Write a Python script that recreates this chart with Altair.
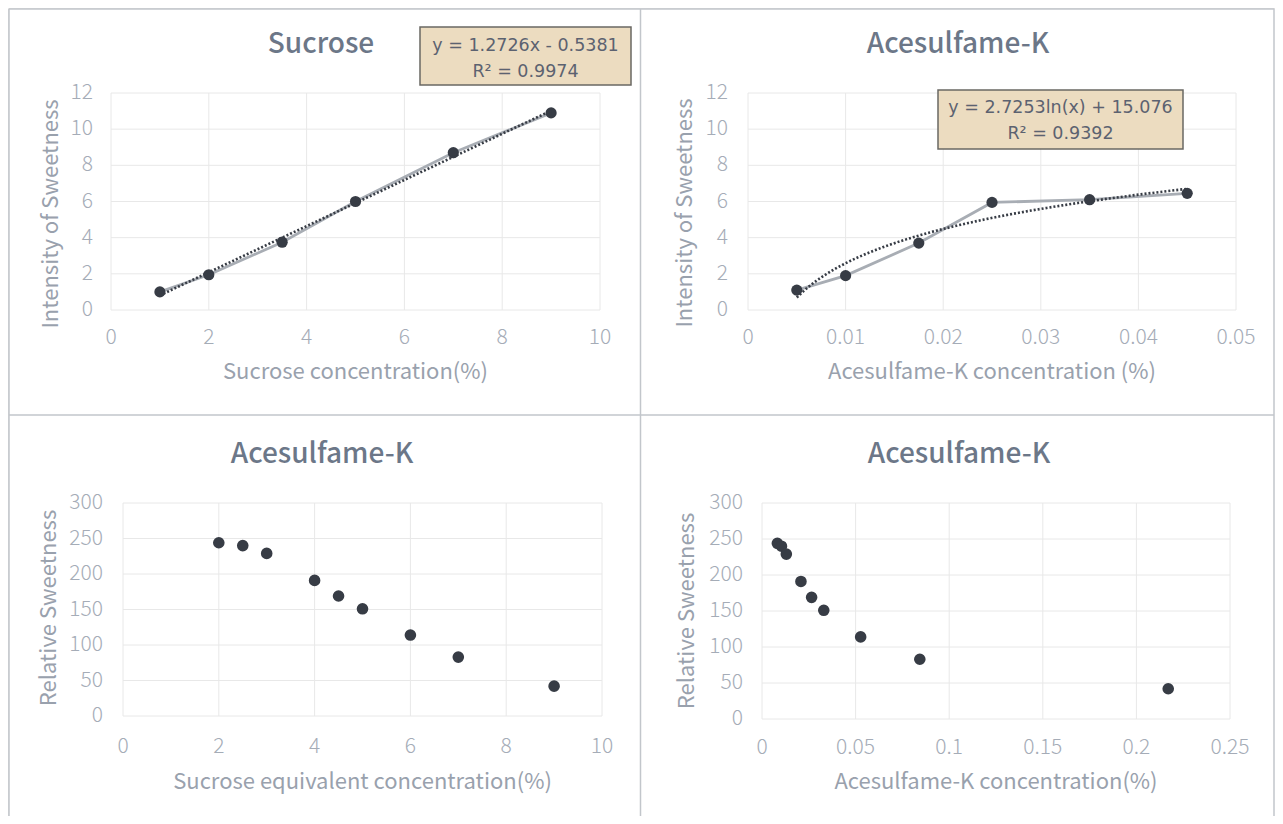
import altair as alt
import pandas as pd

# ---------------- data ----------------
sucrose_conc = [1, 2, 3.5, 5, 7, 9]
sucrose_intensity = [1.0, 1.95, 3.75, 6.0, 8.7, 10.9]

acek_conc = [0.005, 0.01, 0.0175, 0.025, 0.035, 0.045]
acek_intensity = [1.1, 1.9, 3.7, 5.95, 6.1, 6.45]

sucrose_equiv = [2, 2.5, 3, 4, 4.5, 5, 6, 7, 9]
relative_sweetness = [244, 240, 229, 191, 169, 151, 114, 83, 42]
acek_conc_rel = [0.0082, 0.0104, 0.013, 0.0208, 0.0265, 0.033, 0.0527, 0.0843, 0.217]

titles = ["Sucrose", "Acesulfame-K", "Acesulfame-K", "Acesulfame-K"]
x_titles = ["Sucrose concentration(%)", "Acesulfame-K concentration (%)",
            "Sucrose equivalent concentration(%)", "Acesulfame-K concentration(%)"]
y_titles = ["Intensity of Sweetness", "Intensity of Sweetness",
            "Relative Sweetness", "Relative Sweetness"]
eq1_lines = ["y = 1.2726x - 0.5381", "R² = 0.9974"]
eq2_lines = ["y = 2.7253ln(x) + 15.076", "R² = 0.9392"]

x_ticks_1 = [0, 2, 4, 6, 8, 10]
x_ticks_2 = [0, 0.01, 0.02, 0.03, 0.04, 0.05]
x_ticks_3 = [0, 2, 4, 6, 8, 10]
x_ticks_4 = [0, 0.05, 0.1, 0.15, 0.2, 0.25]
y_ticks_top = [0, 2, 4, 6, 8, 10, 12]
y_ticks_bottom = [0, 50, 100, 150, 200, 250, 300]

# ---------------- style / layout ----------------
FONT = "Noto Sans CJK KR"
EQ_FONT = "DejaVu Sans"
GRID = "#e8e8e8"
LABEL_C = "#a5acb7"
ATITLE_C = "#99a1ad"
TITLE_C = "#6c7788"
DARK = "#373c45"
LINE_C = "#a8adb4"
BORDER = "#c2c6cb"
BOX_FILL = "#ecdcc0"
BOX_STROKE = "#6a6863"
EQ_C = "#5c6270"

W, H = 1267, 808
one = pd.DataFrame({"k": [0]})


def panel(df, xdom, xrange, ydom, yrange, xt, yt, xlab_y, ylab_x,
          with_line=False, trend=None, size=100):
    X = alt.X("x:Q", scale=alt.Scale(domain=xdom, range=xrange, nice=False, zero=False), axis=None)
    Y = alt.Y("y:Q", scale=alt.Scale(domain=ydom, range=yrange, nice=False, zero=False), axis=None)
    layers = [
        alt.Chart(pd.DataFrame({"x": xt})).mark_rule(color=GRID, strokeWidth=1).encode(
            x=X, y=alt.value(yrange[1]), y2=alt.value(yrange[0])),
        alt.Chart(pd.DataFrame({"y": yt})).mark_rule(color=GRID, strokeWidth=1).encode(
            y=Y, x=alt.value(xrange[0]), x2=alt.value(xrange[1])),
        alt.Chart(pd.DataFrame({"x": xt})).mark_text(
            font=FONT, fontSize=21, color=LABEL_C, align="center", baseline="middle",
            fontWeight=300).encode(
            x=X, y=alt.value(xlab_y), text=alt.Text("x:Q", format="~r")),
        alt.Chart(pd.DataFrame({"y": yt})).mark_text(
            font=FONT, fontSize=21, color=LABEL_C, align="right", baseline="middle",
            fontWeight=300).encode(
            y=Y, x=alt.value(ylab_x), text=alt.Text("y:Q", format="~r")),
    ]
    base = alt.Chart(df)
    if with_line:
        layers.append(base.mark_line(color=LINE_C, strokeWidth=2.8).encode(x=X, y=Y))
    layers.append(base.mark_point(filled=True, color=DARK, size=size, opacity=1).encode(x=X, y=Y))
    if trend:
        layers.append(base.transform_regression("x", "y", method=trend).mark_line(
            color=DARK, strokeWidth=2.6, strokeDash=[2, 2]).encode(x=X, y=Y))
    return alt.layer(*layers)


def text_at(t, x, y, size, color, font=FONT, angle=0, weight="normal"):
    return alt.Chart(pd.DataFrame({"t": [t]})).mark_text(
        font=font, fontSize=size, color=color, align="center", baseline="middle",
        angle=angle, fontWeight=weight
    ).encode(text="t:N", x=alt.value(x), y=alt.value(y))


def rule_at(x1, y1, x2, y2):
    return alt.Chart(one).mark_rule(color=BORDER, strokeWidth=1.5).encode(
        x=alt.value(x1), y=alt.value(y1), x2=alt.value(x2), y2=alt.value(y2))


def eq_box(lines, x1, x2, y1, y2, ys):
    out = [alt.Chart(one).mark_rect(fill=BOX_FILL, stroke=BOX_STROKE, strokeWidth=1.5).encode(
        x=alt.value(x1), x2=alt.value(x2), y=alt.value(y1), y2=alt.value(y2))]
    for ln, yy in zip(lines, ys):
        out.append(text_at(ln, (x1 + x2) / 2, yy, 17.5, EQ_C, font=EQ_FONT))
    return out


p1 = panel(pd.DataFrame({"x": sucrose_conc, "y": sucrose_intensity}),
           [0, 10], [103, 592], [0, 12], [302, 85], x_ticks_1, y_ticks_top, 330, 85,
           with_line=True, trend="linear", size=125)
p2 = panel(pd.DataFrame({"x": acek_conc, "y": acek_intensity}),
           [0, 0.05], [740, 1228], [0, 12], [302, 85], x_ticks_2, y_ticks_top, 330, 720,
           with_line=True, trend="log", size=125)
p3 = panel(pd.DataFrame({"x": sucrose_equiv, "y": relative_sweetness}),
           [0, 10], [115, 594], [0, 300], [708, 495], x_ticks_3, y_ticks_bottom, 739, 95,
           size=135)
p4 = panel(pd.DataFrame({"x": acek_conc_rel, "y": relative_sweetness}),
           [0, 0.25], [754, 1222], [0, 300], [711, 495], x_ticks_4, y_ticks_bottom, 740, 735,
           size=135)

deco = [
    rule_at(1, 1, 1266, 1),
    rule_at(1, 1, 1, 808),
    rule_at(632.5, 1, 632.5, 808),
    rule_at(1266, 1, 1266, 808),
    rule_at(1, 407, 1266, 407),
    text_at(titles[0], 313, 37, 28, TITLE_C, weight=500),
    text_at(titles[1], 950, 37, 28, TITLE_C, weight=500),
    text_at(titles[2], 314, 447, 28, TITLE_C, weight=500),
    text_at(titles[3], 951, 447, 28, TITLE_C, weight=500),
    text_at(x_titles[0], 347.5, 364, 22, ATITLE_C),
    text_at(x_titles[1], 984, 364, 22, ATITLE_C),
    text_at(x_titles[2], 354.5, 774, 22, ATITLE_C),
    text_at(x_titles[3], 988, 774, 22, ATITLE_C),
    text_at(y_titles[0], 43, 206, 22, ATITLE_C, angle=270),
    text_at(y_titles[1], 677, 205, 22, ATITLE_C, angle=270),
    text_at(y_titles[2], 41, 600, 22, ATITLE_C, angle=270),
    text_at(y_titles[3], 679, 603, 22, ATITLE_C, angle=270),
    *eq_box(eq1_lines, 412, 623, 19, 77, [38, 64]),
    *eq_box(eq2_lines, 930, 1175, 82, 141, [100, 126]),
]

chart = alt.layer(p1, p2, p3, p4, *deco).resolve_scale(
    x="independent", y="independent"
).properties(
    width=W, height=H, padding=0, autosize=alt.AutoSizeParams(type="none")
).configure_view(stroke=None).configure(background="white")

chart.save("out.html", embed_options={"renderer": "svg", "actions": False})
